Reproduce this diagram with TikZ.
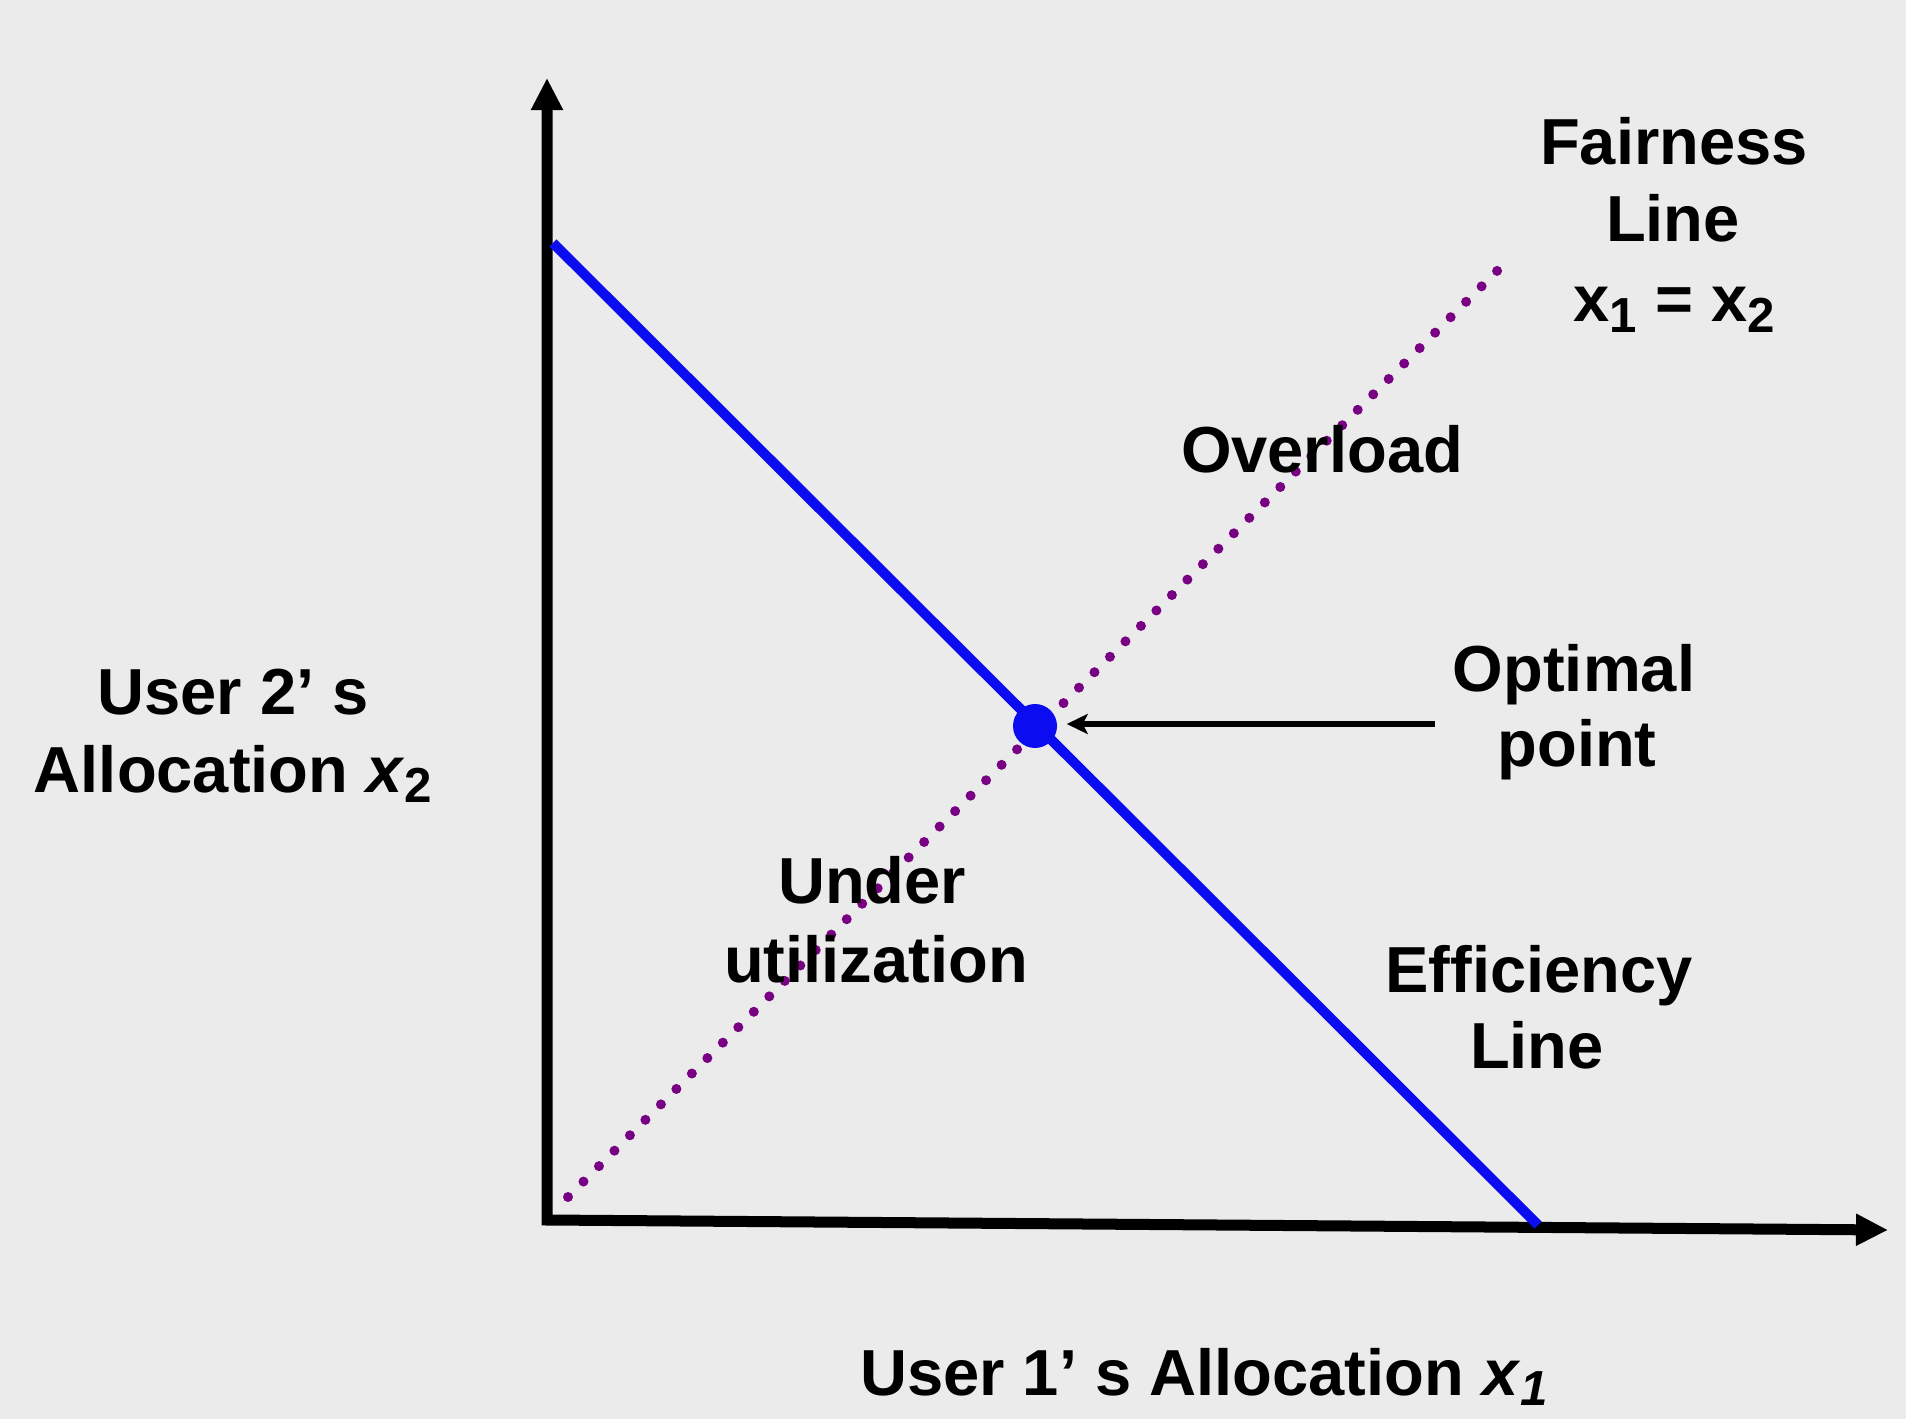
\documentclass[tikz,border=0pt]{standalone}
\usepackage{fontspec}
\setmainfont{Liberation Sans}
\usetikzlibrary{arrows.meta}
\definecolor{bg}{RGB}{235,235,235}
\definecolor{effblue}{RGB}{12,12,240}
\definecolor{fairpurple}{RGB}{120,0,130}
\newcommand\lowsub[1]{\raisebox{-3pt}{\fontsize{14}{14}\selectfont #1}}
\begin{document}
\begin{tikzpicture}[x=0.01cm,y=-0.01cm,
  lbl/.style={font=\bfseries\fontsize{18.5}{22}\selectfont, anchor=base, inner sep=0pt},
  axisline/.style={line width=0.11cm, black, line join=miter},
  effline/.style={line width=0.1cm, effblue},
  fairline/.style={line width=0.1cm, fairpurple, line cap=round, dash pattern=on 0pt off 0.2185cm},
  pointer/.style={line width=0.05cm, black, -{Stealth[length=0.21cm,width=0.2cm,inset=0.05cm]}, shorten >=0.09cm},
  optdot/.style={circle, fill=effblue, minimum size=0.44cm, inner sep=0pt}
]
\useasboundingbox (0,0) rectangle (1906,1419);
\fill[bg] (0,0) rectangle (1906,1419);

% coordinates
\coordinate (ytip) at (547,78);
\coordinate (orig) at (547,1220);
\coordinate (xtip) at (1888,1230);
\coordinate (effa) at (553,243);
\coordinate (effb) at (1538,1225);
\coordinate (faira) at (568,1197);
\coordinate (fairb) at (1503,265);
\coordinate (arrstart) at (1435,724);

% axes
\draw[axisline, {Triangle[length=0.32cm,width=0.30cm]}-{Triangle[length=0.32cm,width=0.30cm]}] (ytip) -- (orig) -- (xtip);

% efficiency line
\draw[effline] (effa) -- (effb);
% fairness line
\draw[fairline] (faira) -- (fairb);

% optimal point
\node[optdot] (opt) at (1035,726) {};
\draw[pointer] (arrstart) -- (opt.east |- arrstart);

% labels
\node[lbl] (fair1) at (1674,165) {Fairness};
\node[lbl] (fair2) at (1673,242) {Line};
\node[lbl] (fair3) at (1674,322) {x\lowsub{1} = x\lowsub{2}};
\node[lbl] (over) at (1322,473) {Overload};
\node[lbl] (opt1) at (1574,692) {Optimal};
\node[lbl] (opt2) at (1577,767) {point};
\node[lbl] (und1) at (872,903) {Under};
\node[lbl] (und2) at (876,982) {utilization};
\node[lbl] (eff1) at (1539,992) {Efficiency};
\node[lbl] (eff2) at (1537,1068) {Line};
\node[lbl] (ylab1) at (233,715) {User 2’ s};
\node[lbl] (ylab2) at (233,792) {Allocation \textit{x}\lowsub{2}};
\node[lbl] (xlab) at (1204,1395) {User 1’ s Allocation \textit{x}\lowsub{\textit{1}}};
\end{tikzpicture}
\end{document}
